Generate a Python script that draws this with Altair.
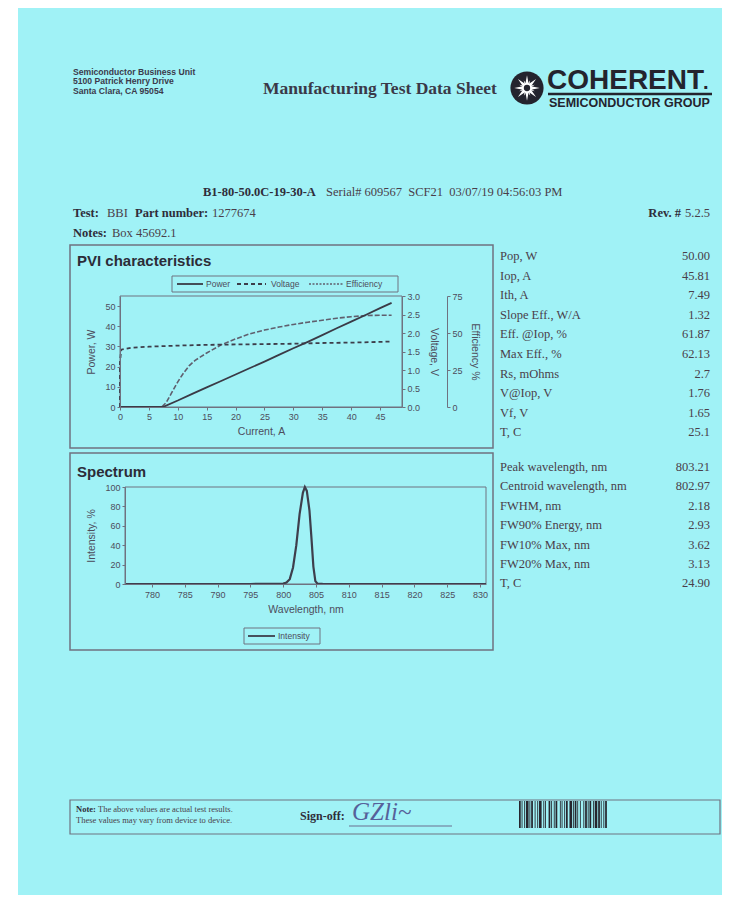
import altair as alt
import pandas as pd

OFF = 8
W, H = 719, 892
SERIF = "Liberation Serif"
SANS = "Liberation Sans"
INK = "#2f2d3a"
INK2 = "#4a3e4a"
AX = "#4d4d5c"
LINE = "#6f7280"
CYAN = "#a0f2f6"

# ---------------- data ----------------
current_p = [0, 2, 4, 6, 7.5, 10, 12.5, 15, 17.5, 20, 22.5, 25, 27.5, 30, 32.5, 35, 37.5, 40, 42.5, 45, 47]
power_w = [0, 0, 0, 0, 0.1, 3.2, 6.5, 9.7, 12.9, 16.1, 19.3, 22.5, 25.8, 29.1, 32.3, 35.6, 39.0, 42.3, 45.6, 49.0, 51.6]

current_v = [0, 0, 0.2, 2, 5, 10, 15, 20, 25, 30, 35, 40, 45, 47]
voltage_v = [0, 1.2, 1.55, 1.6, 1.63, 1.66, 1.68, 1.69, 1.70, 1.71, 1.73, 1.74, 1.76, 1.77]

current_e = [0, 7.2, 8, 9, 10, 11, 12, 13, 14, 15, 17.5, 20, 22.5, 25, 27.5, 30, 32.5, 35, 37.5, 40, 42.5, 45, 47]
eff_pct = [0, 0, 3, 10, 17, 23, 28, 31.5, 34, 36.5, 42, 46, 49.5, 52, 54, 55.8, 57.3, 58.6, 60, 61, 61.8, 62.0, 62.0]

wavelength = [775.9, 785, 795, 799, 800, 800.5, 801, 801.5, 802, 802.5, 803, 803.3, 803.6, 804, 804.3,
              804.6, 804.9, 805.2, 806, 815, 830.9]
intensity = [0, 0, 0, 0.2, 0.5, 1.5, 5, 17, 40, 72, 94, 100, 96, 76, 48, 18, 3, 0.5, 0.2, 0, 0]

pvi_ticks = [0, 5, 10, 15, 20, 25, 30, 35, 40, 45]
power_ticks = [0, 10, 20, 30, 40, 50]
volt_ticks = [0.0, 0.5, 1.0, 1.5, 2.0, 2.5, 3.0]
eff_ticks = [0, 25, 50, 75]
wl_ticks = [780, 785, 790, 795, 800, 805, 810, 815, 820, 825, 830]
int_ticks = [0, 20, 40, 60, 80, 100]

pvi_params = ["Pop, W", "Iop, A", "Ith, A", "Slope Eff., W/A", "Eff. @Iop, %", "Max Eff., %",
              "Rs, mOhms", "V@Iop, V", "Vf, V", "T, C"]
pvi_values = ["50.00", "45.81", "7.49", "1.32", "61.87", "62.13", "2.7", "1.76", "1.65", "25.1"]
spec_params = ["Peak wavelength, nm", "Centroid wavelength, nm", "FWHM, nm", "FW90% Energy, nm",
               "FW10% Max, nm", "FW20% Max, nm", "T, C"]
spec_values = ["803.21", "802.97", "2.18", "2.93", "3.62", "3.13", "24.90"]

barcode_modules = [2, 1, 1, 2, 1, 1, 3, 1, 1, 1, 2, 2, 1, 2, 1, 1, 3, 2, 1, 1, 1, 3, 2, 1, 1, 2, 1, 1,
                   2, 3, 1, 1, 1, 2, 1, 1, 2, 2, 3, 1, 1, 1, 2, 1, 1, 2, 1, 3, 1, 1, 2, 1, 1, 1, 2, 2,
                   1, 1, 3, 1, 2, 1, 1, 2, 1, 1, 2]


def X(v):
    return v - OFF


def Y(v):
    return v - OFF


one = pd.DataFrame({"a": [0]})
layers = []


def text(t, x, y, size=12, font=SERIF, weight="normal", align="left", color=INK,
         baseline="middle", angle=0, style="normal"):
    layers.append(alt.Chart(one).mark_text(
        text=t, font=font, fontSize=size, fontWeight=weight, align=align, baseline=baseline,
        color=color, angle=angle, fontStyle=style).encode(x=alt.value(X(x)), y=alt.value(Y(y))))


def box(x1, y1, x2, y2, stroke=LINE, sw=1.0, fill="#ffffff", fo=0.0):
    layers.append(alt.Chart(one).mark_rect(
        stroke=stroke, strokeWidth=sw, fill=fill, fillOpacity=fo).encode(
        x=alt.value(X(x1)), x2=alt.value(X(x2)), y=alt.value(Y(y1)), y2=alt.value(Y(y2))))


def rule(x1, y1, x2, y2, color=LINE, sw=1.0, dash=None):
    kw = dict(color=color, strokeWidth=sw)
    if dash:
        kw["strokeDash"] = dash
    layers.append(alt.Chart(one).mark_rule(**kw).encode(
        x=alt.value(X(x1)), x2=alt.value(X(x2)), y=alt.value(Y(y1)), y2=alt.value(Y(y2))))


def axis(**kw):
    base = dict(labelFont=SANS, labelFontSize=9, labelColor=AX, titleFont=SANS, titleFontSize=10.5,
                titleFontWeight="normal", titleColor=AX, tickColor=LINE, domainColor=LINE, tickSize=3,
                grid=False, labelFlush=False, labelOverlap=False, domainWidth=1, tickWidth=1, zindex=2)
    base.update(kw)
    return alt.Axis(**base)


# ---------------- paper ----------------
box(18, 8, 722, 895, stroke=CYAN, sw=0, fill=CYAN, fo=1.0)

# ---------------- header ----------------
text("Semiconductor Business Unit", 73, 71.5, size=8.6, font=SANS, weight="bold", color="#3b3b4c")
text("5100 Patrick Henry Drive", 73, 81, size=8.6, font=SANS, weight="bold", color="#3b3b4c")
text("Santa Clara, CA 95054", 73, 90.5, size=8.6, font=SANS, weight="bold", color="#3b3b4c")
text("Manufacturing Test Data Sheet", 263, 89, size=17.5, weight="bold", color="#3a3948")

# logo
star = ("M0,-1L0.13,-0.32L0.71,-0.71L0.32,-0.13L1,0L0.32,0.13L0.71,0.71L0.13,0.32L0,1L-0.13,0.32"
        "L-0.71,0.71L-0.32,0.13L-1,0L-0.32,-0.13L-0.71,-0.71L-0.13,-0.32Z")
layers.append(alt.Chart(one).mark_point(shape="circle", filled=True, size=1100, color="#24242e", opacity=1).encode(
    x=alt.value(X(527)), y=alt.value(Y(88))))
layers.append(alt.Chart(one).mark_point(shape=star, filled=True, size=650, color="#ffffff", opacity=1).encode(
    x=alt.value(X(527)), y=alt.value(Y(88))))
layers.append(alt.Chart(one).mark_point(shape=star, filled=True, size=280, color="#ffffff", opacity=1, angle=22).encode(
    x=alt.value(X(527)), y=alt.value(Y(88))))
layers.append(alt.Chart(one).mark_point(shape="circle", filled=True, size=40, color="#24242e", opacity=1).encode(
    x=alt.value(X(527)), y=alt.value(Y(88))))
text("COHERENT", 547, 89, size=28, font=SANS, weight="bold", color="#24242e", baseline="alphabetic")
text(".", 703, 89, size=20, font=SANS, weight="bold", color="#24242e", baseline="alphabetic")
rule(548, 94, 712, 94, color="#24242e", sw=2.5)
text("SEMICONDUCTOR GROUP", 549, 103, size=12.5, font=SANS, weight="bold", color="#24242e")

# ---------------- identification lines ----------------
text("B1-80-50.0C-19-30-A", 203, 192, size=12.5, weight="bold", color=INK)
text("Serial#\u00a0609567\u00a0\u00a0SCF21\u00a0\u00a003/07/19\u00a004:56:03\u00a0PM", 326, 192, size=12.5, color=INK2)
text("Test:", 73, 213, size=12.5, weight="bold", color=INK)
text("BBI", 107, 213, size=12.5, color=INK2)
text("Part number:", 135, 213, size=12.5, weight="bold", color=INK)
text("1277674", 212, 213, size=12.5, color=INK2)
text("Rev. #", 681, 213, size=12.5, weight="bold", color=INK, align="right")
text("5.2.5", 710, 213, size=12.5, color=INK2, align="right")
text("Notes:", 73, 233, size=12.5, weight="bold", color=INK)
text("Box 45692.1", 112, 233, size=12.5, color=INK2)

# ---------------- PVI panel ----------------
box(70, 245, 493, 448, sw=1.5)
text("PVI characteristics", 77, 261, size=15, font=SANS, weight="bold", color="#2c2c38")
box(172, 276, 398, 292, sw=1)
rule(177, 284, 203, 284, color="#3a3a46", sw=1.8)
text("Power", 206, 284, size=8.5, font=SANS, color=AX)
rule(237, 284, 266, 284, color="#3d3d4a", sw=1.8, dash=[4, 3])
text("Voltage", 271, 284, size=8.5, font=SANS, color=AX)
rule(309, 284, 343, 284, color="#5f5f6e", sw=1.5, dash=[2, 1.5])
text("Efficiency", 346, 284, size=8.5, font=SANS, color=AX)
box(120, 296, 402, 407, sw=1)

pvi_x = alt.Scale(domain=[0, 48.8], range=[X(120), X(402)], nice=False, zero=False)
sc_p = alt.Scale(domain=[0, 55], range=[Y(407), Y(296)], nice=False)
sc_v = alt.Scale(domain=[0, 3], range=[Y(407), Y(296)], nice=False)
sc_e = alt.Scale(domain=[0, 75], range=[Y(407), Y(296)], nice=False)

df_p = pd.DataFrame({"current": current_p, "power": power_w, "i": range(len(current_p))})
df_v = pd.DataFrame({"current": current_v, "voltage": voltage_v, "i": range(len(current_v))})
df_e = pd.DataFrame({"current": current_e, "eff": eff_pct, "i": range(len(current_e))})

layers.append(alt.Chart(df_e).mark_line(color="#5f5f6e", strokeWidth=1.6, strokeDash=[5, 2]).encode(
    x=alt.X("current:Q", scale=pvi_x, axis=None),
    y=alt.Y("eff:Q", scale=sc_e, axis=axis(orient="right", offset=X(447) - W, values=eff_ticks,
                                           title="Efficiency %", labelPadding=2, titlePadding=7)),
    order="i:Q"))
layers.append(alt.Chart(df_v).mark_line(color="#3d3d4a", strokeWidth=1.8, strokeDash=[4, 3]).encode(
    x=alt.X("current:Q", scale=pvi_x, axis=None),
    y=alt.Y("voltage:Q", scale=sc_v, axis=axis(orient="right", offset=X(402) - W, values=volt_ticks, format=".1f",
                                               title="Voltage, V", labelPadding=2, titlePadding=9)),
    order="i:Q"))
layers.append(alt.Chart(df_p).mark_line(color="#3a3a46", strokeWidth=1.8).encode(
    x=alt.X("current:Q", scale=pvi_x, axis=axis(orient="bottom", offset=Y(407) - H, values=pvi_ticks,
                                                title="Current, A", labelPadding=2, titlePadding=5)),
    y=alt.Y("power:Q", scale=sc_p, axis=axis(orient="left", offset=-X(120), values=power_ticks,
                                             title="Power, W", labelPadding=2, titlePadding=8)),
    order="i:Q"))

# ---------------- Spectrum panel ----------------
box(70, 453, 493, 650, sw=1.5)
text("Spectrum", 77, 472, size=15, font=SANS, weight="bold", color="#2c2c38")
box(125, 487, 486, 584, sw=1)
box(244, 628, 320, 644, sw=1)
rule(248, 636, 275, 636, color="#3e3e4c", sw=1.8)
text("Intensity", 278, 636, size=8.5, font=SANS, color=AX)

df_s = pd.DataFrame({"wl": wavelength, "int": intensity})
layers.append(alt.Chart(df_s).mark_line(color="#3e3e4c", strokeWidth=2.2).encode(
    x=alt.X("wl:Q", scale=alt.Scale(domain=[775.9, 830.9], range=[X(125), X(486)], nice=False, zero=False),
            axis=axis(orient="bottom", offset=Y(584) - H, values=wl_ticks, title="Wavelength, nm",
                      labelPadding=3, titlePadding=5)),
    y=alt.Y("int:Q", scale=alt.Scale(domain=[0, 100], range=[Y(584), Y(487)], nice=False),
            axis=axis(orient="left", offset=-X(125), values=int_ticks, title="Intensity, %",
                      labelPadding=2, titlePadding=8))))

# ---------------- parameter tables ----------------
def table(labels, values, y0, step):
    df = pd.DataFrame({"label": labels, "value": values,
                       "y": [Y(y0 + k * step) for k in range(len(labels))]})
    base = alt.Chart(df)
    layers.append(base.mark_text(align="left", baseline="middle", font=SERIF, fontSize=12.5, color=INK2).encode(
        x=alt.value(X(500)), y=alt.Y("y:Q", scale=None, axis=None), text="label:N"))
    layers.append(base.mark_text(align="right", baseline="middle", font=SERIF, fontSize=12.5, color=INK2).encode(
        x=alt.value(X(710)), y=alt.Y("y:Q", scale=None, axis=None), text="value:N"))


table(pvi_params, pvi_values, 256, 19.6)
table(spec_params, spec_values, 467, 19.4)

# ---------------- footer ----------------
box(70, 800, 720, 834, sw=1.2)
text("Note:", 76, 809, size=8.5, weight="bold", color=INK)
text("The above values are actual test results.", 98, 809, size=8.5, color=INK2)
text("These values may vary from device to device.", 76, 820, size=8.5, color=INK2)
text("Sign-off:", 300, 816, size=12, weight="bold", color=INK)
text("GZli~", 352, 812, size=25, style="italic", color="#56619a")
rule(349, 826, 452, 826, color="#6a6e90", sw=1)

bx, rows = 519.0, []
for k, m in enumerate(barcode_modules):
    if k % 2 == 0:
        rows.append({"x0": X(bx), "x1": X(bx + m * 0.87)})
    bx += m * 0.87
df_b = pd.DataFrame(rows)
layers.append(alt.Chart(df_b).mark_rect(color="#26262e").encode(
    x=alt.X("x0:Q", scale=None, axis=None), x2="x1:Q",
    y=alt.value(Y(801)), y2=alt.value(Y(828))))

chart = alt.layer(*layers).resolve_scale(x="independent", y="independent").properties(
    width=W, height=H, background="#ffffff", padding=0,
    autosize=alt.AutoSizeParams(type="none")).configure_view(strokeWidth=0)

chart.save("out.html", embed_options={"renderer": "svg", "actions": False})
